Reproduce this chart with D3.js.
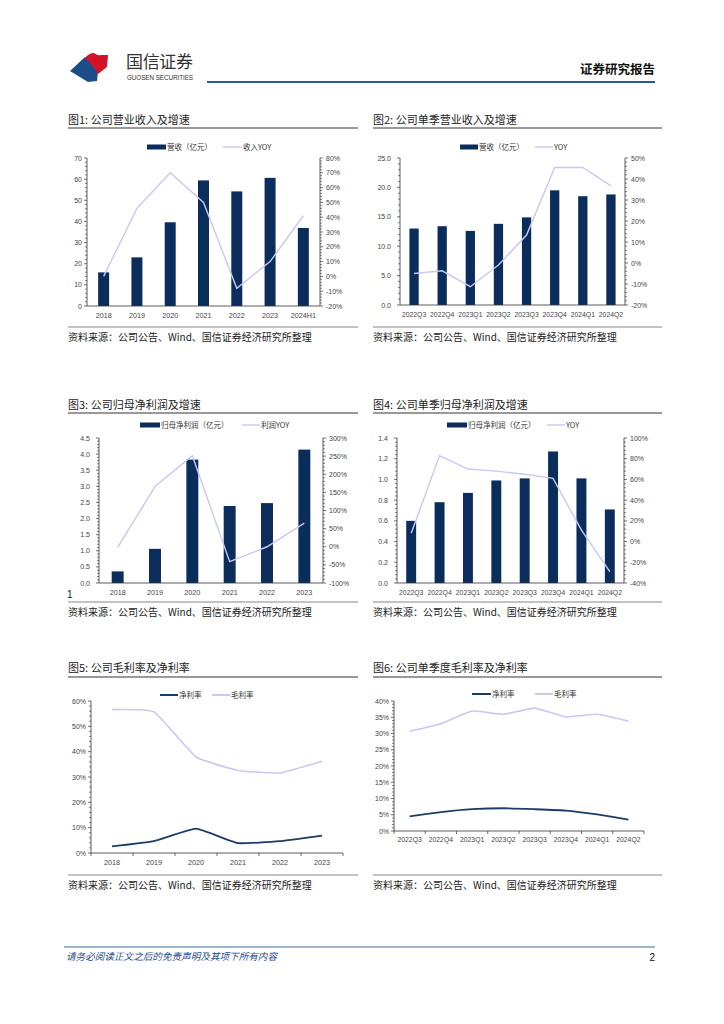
<!DOCTYPE html>
<html><head><meta charset="utf-8">
<script src="https://cdn.jsdelivr.net/npm/d3@7"></script>
<style>body{margin:0;background:#fff} svg{display:block}</style>
</head><body><svg id="page" width="724" height="1024"></svg>
<script>
// ---------------- data ----------------
const yearsA = ["2018","2019","2020","2021","2022","2023","2024H1"];
const revenue = [15.9,23.0,39.6,59.4,54.2,60.6,36.9];
const revenueYoY = [0,46,70,50,-8,10,41];
const quarters = ["2022Q3","2022Q4","2023Q1","2023Q2","2023Q3","2023Q4","2024Q1","2024Q2"];
const qRevenue = [13.0,13.4,12.6,13.8,14.9,19.5,18.5,18.8];
const qRevenueYoY = [-5,-3.7,-11.3,-1,13.3,45.5,45.5,36.7];
const yearsB = ["2018","2019","2020","2021","2022","2023"];
const profit = [0.36,1.06,3.83,2.39,2.48,4.14];
const profitYoY = [-2,166,251,-41,0,65];
const qProfit = [0.60,0.78,0.87,0.99,1.01,1.27,1.01,0.71];
const qProfitYoY = [8,83,70,68,65,61,11,-29];
const grossMargin = [56.6,55.7,37.9,32.6,31.6,36.2];
const netMargin = [2.6,4.7,9.6,3.9,4.7,6.9];
const qGrossMargin = [30.7,33.0,36.9,35.9,37.8,35.1,35.9,33.8];
const qNetMargin = [4.5,5.8,6.7,7.0,6.7,6.3,5.1,3.5];

const sourceText = "资料来源：公司公告、Wind、国信证券经济研究所整理";

// ---------------- styles ----------------
const NAVY = "#0b2d5c", LAV = "#c8c8f2", DARKLINE = "#1b3c66";
const CJK = "'Noto Sans CJK SC','Noto Sans',sans-serif";
const LAT = "'Liberation Sans',Arial,sans-serif";
const svg = d3.select("#page");

// ---------------- header ----------------
const hdr = svg.append("g");
hdr.append("path").attr("d","M70,71 L85,57 Q93,65 98,72 L97,81 L88,82 Z").attr("fill","#1d4d86");
hdr.append("path").attr("d","M85,58 Q89,53 94,53 Q98,56 101,55 L108,55 L107,67 Q102,71 98,74 Q93,65 85,58 Z").attr("fill","#d3122a");
hdr.append("text").attr("x",126).attr("y",68).text("国信证券")
  .attr("font-family",CJK).attr("font-size",17).attr("fill","#333").attr("textLength",67);
hdr.append("text").attr("x",127).attr("y",80).text("GUOSEN SECURITIES")
  .attr("font-family",LAT).attr("font-size",6.3).attr("fill","#333").attr("textLength",66);
hdr.append("line").attr("x1",207).attr("x2",655).attr("y1",82).attr("y2",82)
  .attr("stroke","#2a5a8e").attr("stroke-width",2);
hdr.append("text").attr("x",655).attr("y",74).attr("text-anchor","end").text("证券研究报告")
  .attr("font-family",CJK).attr("font-size",12.5).attr("font-weight","bold").attr("fill","#111");

// ---------------- footer ----------------
svg.append("line").attr("x1",64).attr("x2",655).attr("y1",947).attr("y2",947).attr("stroke","#3d6b9a").attr("stroke-width",1);
svg.append("text").attr("x",66).attr("y",960).text("请务必阅读正文之后的免责声明及其项下所有内容")
  .attr("font-family",CJK).attr("font-size",9.6).attr("font-style","italic").attr("fill","#1f4e8c");
svg.append("text").attr("x",655).attr("y",961).attr("text-anchor","end").text("2")
  .attr("font-family",LAT).attr("font-size",10).attr("fill","#111");

// ---------------- helpers ----------------
function frame(c){
  const g = svg.append("g");
  g.append("text").attr("x",c.x1).attr("y",c.titleY).text(c.title)
    .attr("font-family",CJK).attr("font-size",11).attr("fill","#222");
  g.append("line").attr("x1",c.x1).attr("x2",c.x2).attr("y1",c.ruleY).attr("y2",c.ruleY)
    .attr("stroke","#777").attr("stroke-width",1.4);
  g.append("line").attr("x1",c.x1).attr("x2",c.x2).attr("y1",c.bottomY).attr("y2",c.bottomY)
    .attr("stroke","#888").attr("stroke-width",1.2);
  g.append("text").attr("x",c.x1).attr("y",c.bottomY+14).text(sourceText)
    .attr("font-family",CJK).attr("font-size",10).attr("fill","#222");
  return g;
}

function legend(g, items, y){
  items.forEach(it=>{
    if(it.type==="bar"){
      g.append("rect").attr("x",it.x).attr("y",y-2.5).attr("width",it.w).attr("height",5).attr("fill",NAVY);
    } else {
      g.append("line").attr("x1",it.x).attr("x2",it.x+it.w).attr("y1",y).attr("y2",y)
        .attr("stroke",it.color).attr("stroke-width",it.sw||1.5);
    }
    g.append("text").attr("x",it.x+it.w+1).attr("y",y+2.6).text(it.label)
      .attr("font-family",CJK).attr("font-size",7.5).attr("fill","#333");
  });
}

function yAxis(g, scale, x, side, ticks, fmt, minorN, labelOffset){
  const dir = side==="left" ? -1 : 1;
  const [y0,y1] = scale.range();
  g.append("line").attr("x1",x).attr("x2",x).attr("y1",y0).attr("y2",y1).attr("stroke","#333").attr("stroke-width",0.8);
  const step = ticks[1]-ticks[0];
  for(let i=0;i<ticks.length;i++){
    const v = ticks[i];
    g.append("line").attr("x1",x).attr("x2",x+dir*3).attr("y1",scale(v)).attr("y2",scale(v)).attr("stroke","#333").attr("stroke-width",0.7);
    g.append("text").attr("x",x+dir*labelOffset).attr("y",scale(v)+2.5).text(fmt(v))
      .attr("text-anchor", side==="left"?"end":"start")
      .attr("font-family",LAT).attr("font-size",7).attr("fill","#444");
    if(minorN && i<ticks.length-1){
      for(let k=1;k<minorN;k++){
        const mv = v + step*k/minorN;
        g.append("line").attr("x1",x).attr("x2",x+dir*2).attr("y1",scale(mv)).attr("y2",scale(mv)).attr("stroke","#333").attr("stroke-width",0.6);
      }
    }
  }
}

function xAxis(g, band, y, labelY, boundaryTicks, fontSize){
  const [a,b] = band.range();
  g.append("line").attr("x1",a).attr("x2",b).attr("y1",y).attr("y2",y).attr("stroke","#333").attr("stroke-width",0.8);
  if(boundaryTicks){
    band.domain().forEach(d=>{
      const xx = band(d);
      g.append("line").attr("x1",xx).attr("x2",xx).attr("y1",y).attr("y2",y+3).attr("stroke","#333").attr("stroke-width",0.7);
    });
    g.append("line").attr("x1",b).attr("x2",b).attr("y1",y).attr("y2",y+3).attr("stroke","#333").attr("stroke-width",0.7);
  }
  band.domain().forEach(d=>{
    g.append("text").attr("x",band(d)+band.bandwidth()/2).attr("y",labelY).text(d)
      .attr("text-anchor","middle").attr("font-family",LAT).attr("font-size",fontSize||7.2).attr("fill","#444");
  });
}

function combo(c){
  const g = frame(c);
  const x = d3.scaleBand().domain(c.cats).range([c.left,c.right]).paddingInner(0).paddingOuter(0);
  const yL = d3.scaleLinear().domain(c.lDomain).range([c.bottom,c.top]);
  const yR = d3.scaleLinear().domain(c.rDomain).range([c.bottom,c.top]);
  const bw = x.step()*c.barRatio;
  g.selectAll(null).data(c.bars).enter().append("rect")
    .attr("x",(d,i)=>x(c.cats[i])+x.step()/2-bw/2).attr("width",bw)
    .attr("y",d=>yL(d)).attr("height",d=>yL(0)-yL(d)).attr("fill",NAVY);
  yAxis(g,yL,c.left,"left",d3.range(c.lDomain[0],c.lDomain[1]+c.lStep/2,c.lStep),c.lFmt,5,c.lOff||5);
  yAxis(g,yR,c.right,"right",d3.range(c.rDomain[0],c.rDomain[1]+c.rStep/2,c.rStep),v=>Math.round(v)+"%",5,6);
  xAxis(g,x,c.bottom,c.labelY,false,c.xFont);
  const line = d3.line().x((d,i)=>x(c.cats[i])+x.step()/2).y(d=>yR(d));
  g.append("path").attr("d",line(c.line)).attr("fill","none").attr("stroke",LAV).attr("stroke-width",1.4);
  legend(g,c.legend,c.legendY);
  return g;
}

function lines(c){
  const g = frame(c);
  const x = d3.scaleBand().domain(c.cats).range([c.left,c.right]);
  const y = d3.scaleLinear().domain(c.domain).range([c.bottom,c.top]);
  yAxis(g,y,c.left,"left",d3.range(c.domain[0],c.domain[1]+c.step/2,c.step),v=>Math.round(v)+"%",5,5);
  xAxis(g,x,c.bottom,c.labelY,true,c.xFont);
  const ln = d3.line().x((d,i)=>x(c.cats[i])+x.step()/2).y(d=>y(d)).curve(d3.curveCardinal.tension(0.65));
  g.append("path").attr("d",ln(c.gross)).attr("fill","none").attr("stroke",LAV).attr("stroke-width",1.6);
  g.append("path").attr("d",ln(c.net)).attr("fill","none").attr("stroke",DARKLINE).attr("stroke-width",1.8);
  legend(g,c.legend,c.legendY);
  return g;
}

// ---------------- charts ----------------
combo({title:"图1: 公司营业收入及增速", x1:68, x2:358, titleY:124, ruleY:128, bottomY:327,
  left:87, right:320, top:158, bottom:306, labelY:318,
  cats:yearsA, bars:revenue, line:revenueYoY, barRatio:0.33,
  lDomain:[0,70], lStep:10, lFmt:v=>v, rDomain:[-20,80], rStep:10, lOff:5,
  legendY:147, legend:[{type:"bar",x:147,w:19,label:"营收（亿元）"},{type:"line",x:223,w:19,color:LAV,label:"收入YOY"}]});

combo({title:"图2: 公司单季营业收入及增速", x1:373, x2:662, titleY:124, ruleY:128, bottomY:327,
  left:400, right:625, top:158, bottom:305, labelY:317, xFont:6.8,
  cats:quarters, bars:qRevenue, line:qRevenueYoY, barRatio:0.33,
  lDomain:[0,25], lStep:5, lFmt:v=>v.toFixed(1), rDomain:[-20,50], rStep:10, lOff:9,
  legendY:147, legend:[{type:"bar",x:460,w:18,label:"营收（亿元）"},{type:"line",x:535,w:18,color:LAV,label:"YOY"}]});

const c3 = combo({title:"图3: 公司归母净利润及增速", x1:68, x2:358, titleY:409, ruleY:413, bottomY:602,
  left:99, right:323, top:438, bottom:583, labelY:595,
  cats:yearsB, bars:profit, line:profitYoY, barRatio:0.32,
  lDomain:[0,4.5], lStep:0.5, lFmt:v=>v.toFixed(1), rDomain:[-100,300], rStep:50, lOff:9,
  legendY:425, legend:[{type:"bar",x:140,w:20,label:"归母净利润（亿元）"},{type:"line",x:242,w:18,color:LAV,label:"利润YOY"}]});
c3.append("text").attr("x",67).attr("y",598).text("1").attr("font-family",LAT).attr("font-size",10).attr("fill","#222");

combo({title:"图4: 公司单季归母净利润及增速", x1:373, x2:662, titleY:409, ruleY:413, bottomY:602,
  left:397, right:624, top:438, bottom:583, labelY:595, xFont:6.8,
  cats:quarters, bars:qProfit, line:qProfitYoY, barRatio:0.35,
  lDomain:[0,1.4], lStep:0.2, lFmt:v=>v.toFixed(1), rDomain:[-40,100], rStep:20, lOff:9,
  legendY:425, legend:[{type:"bar",x:447,w:20,label:"归母净利润（亿元）"},{type:"line",x:547,w:18,color:LAV,label:"YOY"}]});

lines({title:"图5: 公司毛利率及净利率", x1:68, x2:358, titleY:672, ruleY:677, bottomY:875,
  left:91, right:343, top:701, bottom:853, labelY:865,
  cats:yearsB, gross:grossMargin, net:netMargin, domain:[0,60], step:10,
  legendY:695, legend:[{type:"line",x:160,w:18,color:DARKLINE,sw:2,label:"净利率"},{type:"line",x:212,w:18,color:LAV,sw:2,label:"毛利率"}]});

lines({title:"图6: 公司单季度毛利率及净利率", x1:373, x2:662, titleY:672, ruleY:677, bottomY:875,
  left:394, right:644, top:701, bottom:831, labelY:842, xFont:6.8,
  cats:quarters, gross:qGrossMargin, net:qNetMargin, domain:[0,40], step:5,
  legendY:694, legend:[{type:"line",x:472,w:19,color:DARKLINE,sw:2,label:"净利率"},{type:"line",x:535,w:18,color:LAV,sw:2,label:"毛利率"}]});
</script>
</body></html>
